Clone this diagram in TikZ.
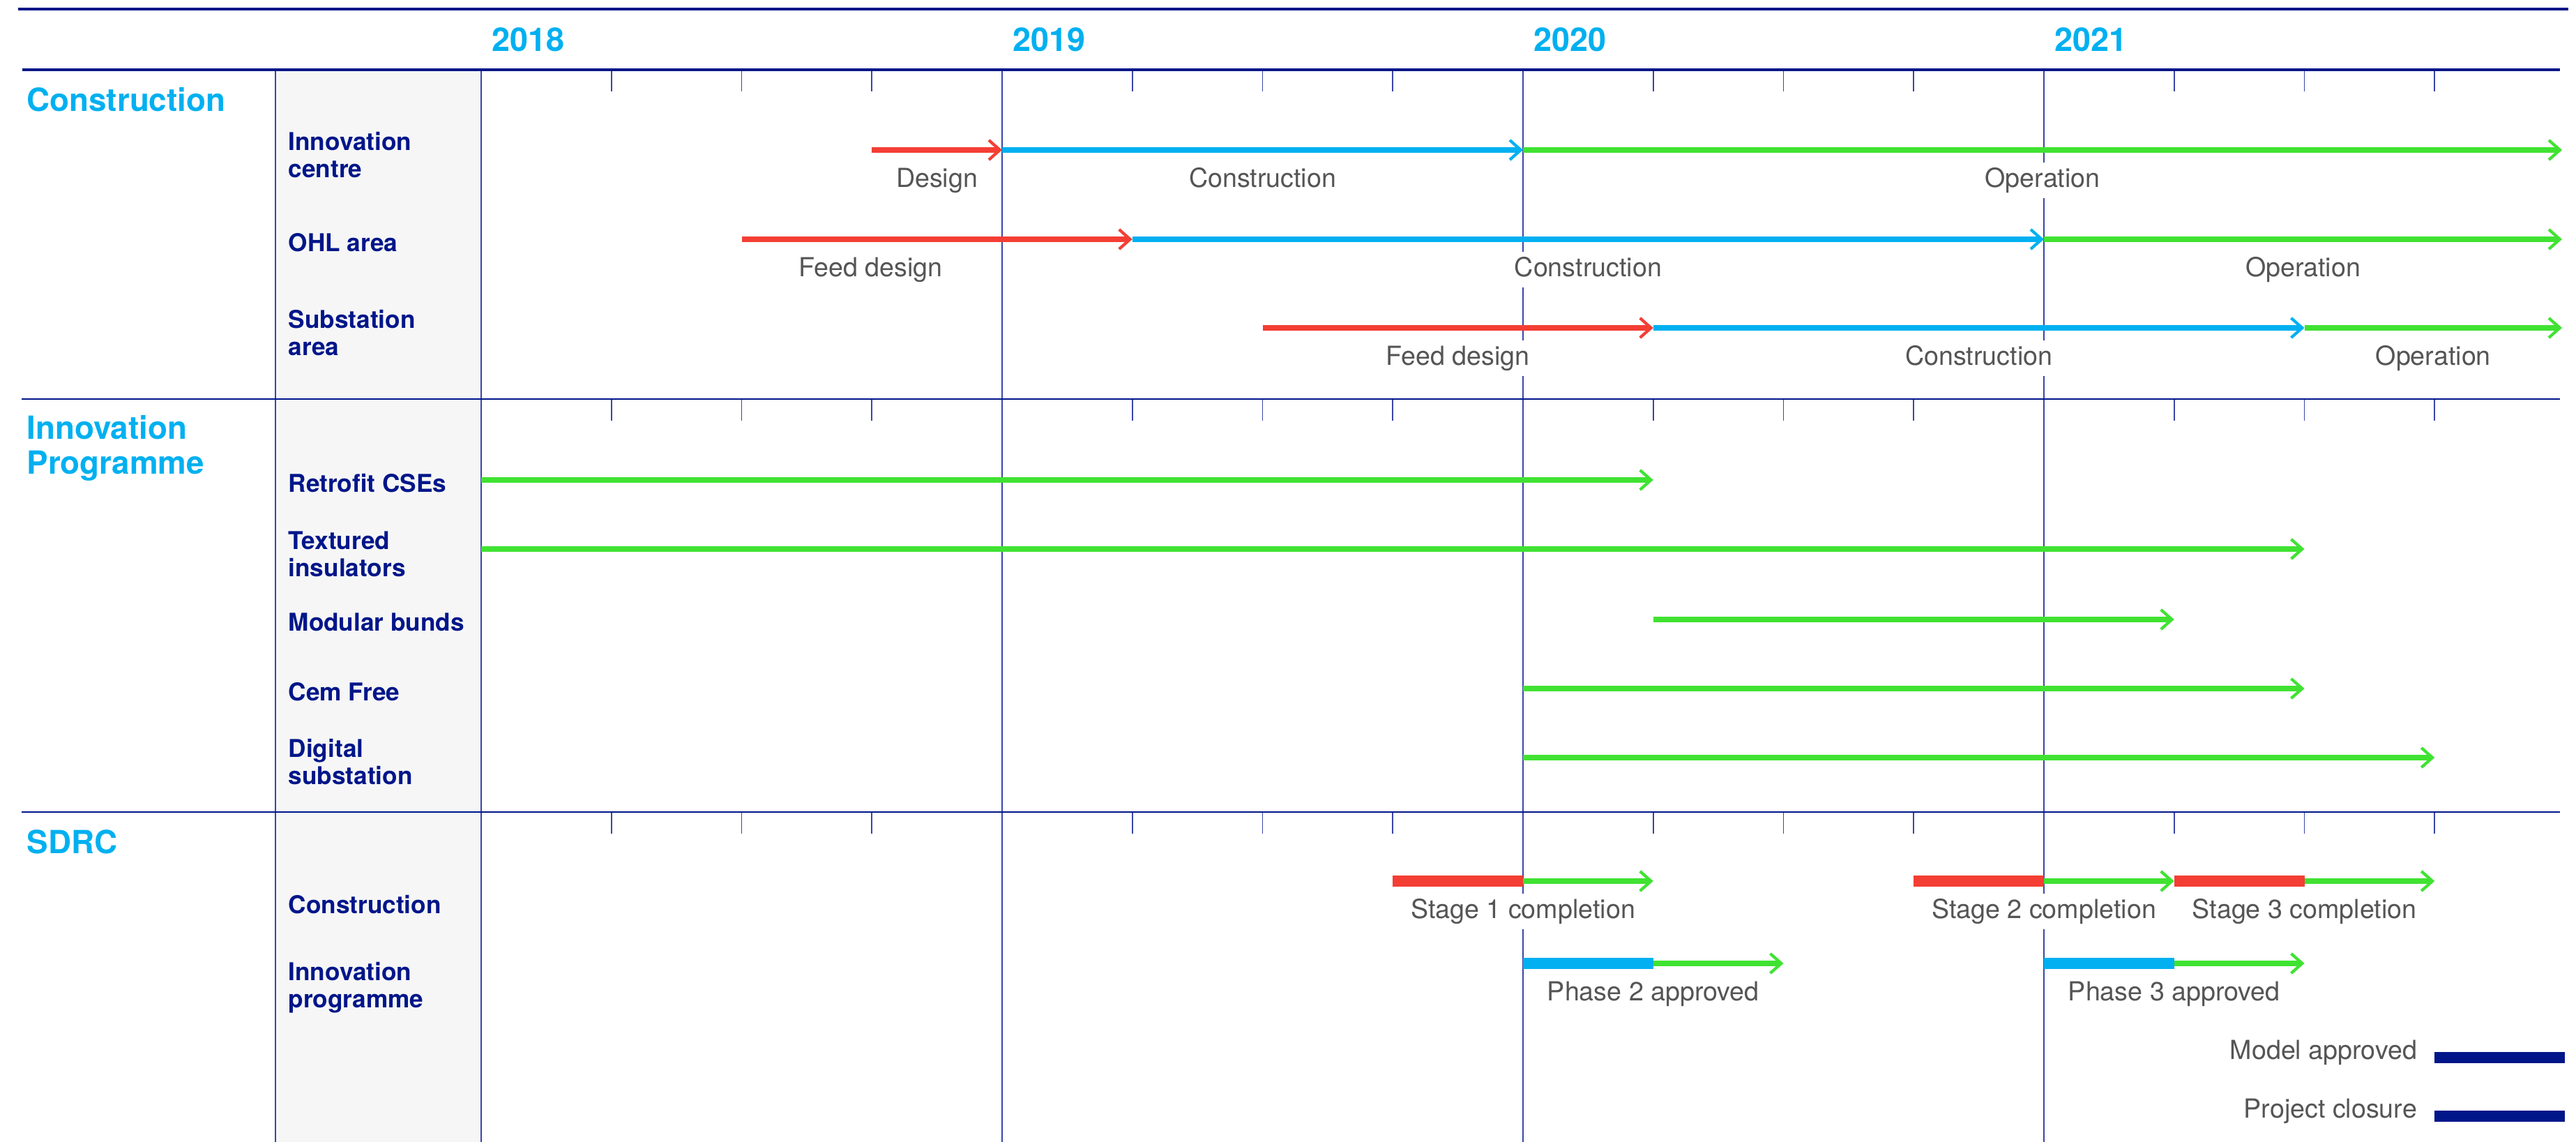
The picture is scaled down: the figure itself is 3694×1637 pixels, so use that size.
\documentclass[tikz,border=0pt]{standalone}
\usepackage{fontspec}
\setmainfont{TeX Gyre Heros}
\usetikzlibrary{arrows.meta,calc,positioning}

\definecolor{navy}{RGB}{0,22,137}
\definecolor{skyblue}{RGB}{0,176,240}
\definecolor{gridblue}{RGB}{58,70,168}
\definecolor{phasered}{RGB}{244,62,52}
\definecolor{phasegreen}{RGB}{64,226,50}
\definecolor{labelgrey}{RGB}{85,85,85}
\definecolor{colgrey}{RGB}{246,246,246}

\tikzset{
  rule/.style={navy,line width=0.9pt},
  gridline/.style={gridblue,line width=0.5pt},
  run/.style={line width=2pt,-{Straight Barb[length=4.5pt,width=8pt,line width=1.2pt]}},
  design/.style={run,phasered},
  build/.style={run,skyblue},
  operate/.style={run,phasegreen},
  bar/.style={line width=4.6pt},
  phaselbl/.style={fill=white,text=labelgrey,inner sep=2pt,text height=8pt,text depth=2.5pt,
    yshift=-12.5pt,font=\fontsize{10.7}{12}\selectfont},
  rowlbl/.style={navy,anchor=west,align=left,inner sep=0pt,font=\bfseries\fontsize{10}{11.1}\selectfont},
  section/.style={skyblue,anchor=west,align=left,inner sep=0pt,font=\bfseries\fontsize{13}{14.2}\selectfont},
  yearlbl/.style={skyblue,font=\bfseries\fontsize{13.3}{14}\selectfont}
}

\begin{document}
\begin{tikzpicture}[x=0.01cm,y=-0.01cm]
  \useasboundingbox (0,0) rectangle (3694,1637);

  % label column and grid
  \fill[colgrey] (395,100) rectangle (690,1637);
  \draw[gridline] (395,100) -- (395,1637);
  \foreach \yr [count=\i from 0] in {2018,2019,2020,2021} {
    \pgfmathsetmacro\xx{690+747*\i}
    \draw[gridline] (\xx,100) -- (\xx,1637);
    \node[yearlbl] (y\yr) at (\xx+67,57) {\yr};
  }
  \foreach \k in {1,2,3,5,6,7,9,10,11,13,14,15}
    \foreach \t in {100,572,1164}
      \draw[gridline] ({690+186.75*\k},\t) -- ++(0,31);
  \draw[rule] (26,13) -- (3683,13);
  \draw[rule] (32,100) -- (3671,100);
  \draw[gridline,navy] (31,572) -- (3671,572);
  \draw[gridline,navy] (31,1164) -- (3671,1164);

  % quarters and rows
  \foreach \k in {0,...,16}
    \coordinate (q\k) at ({690+186.75*\k},0);
  \coordinate (qend) at (3674,0);
  \coordinate (ic) at (0,215);
  \coordinate (ohl) at (0,343);
  \coordinate (sub) at (0,470);
  \coordinate (cse) at (0,688);
  \coordinate (tex) at (0,787);
  \coordinate (bund) at (0,888);
  \coordinate (cem) at (0,987);
  \coordinate (dig) at (0,1086);
  \coordinate (sdc) at (0,1263);
  \coordinate (sdi) at (0,1381);
  \coordinate (mod) at (0,1516);
  \coordinate (clo) at (0,1600);

  % headings
  \node[section] (hcon) at (38,143) {Construction};
  \node[section] (hinn) at (38,642) {Innovation\\Programme};
  \node[section] (hsdrc) at (38,1207) {SDRC};

  \node[rowlbl] (ric) at (413,222) {Innovation\\centre};
  \node[rowlbl] (rohl) at (413,348) {OHL area};
  \node[rowlbl] (rsub) at (413,477) {Substation\\area};
  \node[rowlbl] (rcse) at (413,693) {Retrofit CSEs};
  \node[rowlbl] (rtex) at (413,794) {Textured\\insulators};
  \node[rowlbl] (rbund) at (413,892) {Modular bunds};
  \node[rowlbl] (rcem) at (413,992) {Cem Free};
  \node[rowlbl] (rdig) at (413,1092) {Digital\\substation};
  \node[rowlbl] (rsdc) at (413,1297) {Construction};
  \node[rowlbl] (rsdi) at (413,1416) {Innovation\\programme};

  % construction
  \draw[design] (q3 |- ic) -- node[phaselbl] (ic-d) {Design} (q4 |- ic);
  \draw[build] (q4 |- ic) -- node[phaselbl] (ic-b) {Construction} (q8 |- ic);
  \draw[operate] (q8 |- ic) -- node[phaselbl] (ic-o) {Operation} (qend |- ic);

  \draw[design] (q2 |- ohl) -- node[phaselbl,pos=0.33] (ohl-d) {Feed design} (q5 |- ohl);
  \draw[build] (q5 |- ohl) -- node[phaselbl] (ohl-b) {Construction} (q12 |- ohl);
  \draw[operate] (q12 |- ohl) -- node[phaselbl] (ohl-o) {Operation} (qend |- ohl);

  \draw[design] (q6 |- sub) -- node[phaselbl] (sub-d) {Feed design} (q9 |- sub);
  \draw[build] (q9 |- sub) -- node[phaselbl] (sub-b) {Construction} (q14 |- sub);
  \draw[operate] (q14 |- sub) -- node[phaselbl] (sub-o) {Operation} (qend |- sub);

  % innovation programme
  \draw[operate] (q0 |- cse) -- (q9 |- cse);
  \draw[operate] (q0 |- tex) -- (q14 |- tex);
  \draw[operate] (q9 |- bund) -- (q13 |- bund);
  \draw[operate] (q8 |- cem) -- (q14 |- cem);
  \draw[operate] (q8 |- dig) -- (q15 |- dig);

  % SDRC
  \draw[bar,phasered] (q7 |- sdc) -- (q8 |- sdc);
  \draw[operate] (q8 |- sdc) node[phaselbl] (st1) {Stage 1 completion} -- (q9 |- sdc);
  \draw[bar,phasered] (q11 |- sdc) -- (q12 |- sdc);
  \draw[operate] (q12 |- sdc) node[phaselbl] (st2) {Stage 2 completion} -- (q13 |- sdc);
  \draw[bar,phasered] (q13 |- sdc) -- (q14 |- sdc);
  \draw[operate] (q14 |- sdc) node[phaselbl] (st3) {Stage 3 completion} -- (q15 |- sdc);

  \draw[bar,skyblue] (q8 |- sdi) -- (q9 |- sdi);
  \draw[operate] (q9 |- sdi) node[phaselbl] (ph2) {Phase 2 approved} -- (q10 |- sdi);
  \draw[bar,skyblue] (q12 |- sdi) -- (q13 |- sdi);
  \draw[operate] (q13 |- sdi) node[phaselbl] (ph3) {Phase 3 approved} -- (q14 |- sdi);

  \draw[bar,navy] (q15 |- mod) -- (q16 |- mod);
  \node[phaselbl,fill=none,anchor=east,xshift=-5pt,yshift=14.5pt] (mdl) at (q15 |- mod) {Model approved};
  \draw[bar,navy] (q15 |- clo) -- (q16 |- clo);
  \node[phaselbl,fill=none,anchor=east,xshift=-5pt,yshift=14.5pt] (cls) at (q15 |- clo) {Project closure};
\end{tikzpicture}
\end{document}
